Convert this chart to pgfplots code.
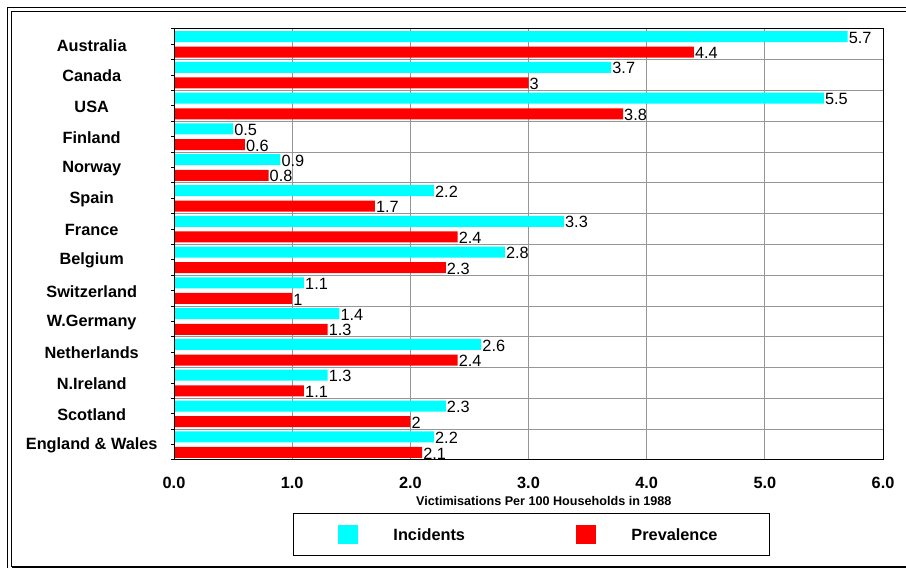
\documentclass[border=0pt]{standalone}
\usepackage{pgfplots}
\pgfplotsset{compat=1.18}
\usepackage{fontspec}
\setmainfont{Liberation Sans}
\definecolor{barcyan}{RGB}{0,255,255}
\definecolor{barred}{RGB}{255,0,0}
\definecolor{gridgray}{RGB}{150,150,150}
\begin{document}
\begin{tikzpicture}[x=1bp,y=1bp]
\useasboundingbox (0,0) rectangle (906,568);
\draw[line width=1.5bp] (7.3,-5) -- (7.3,560.7) -- (915,560.7);
\draw[line width=1.5bp] (11.5,1) -- (11.5,556.5) -- (915,556.5);
\draw[line width=1.5bp] (11.5,1) -- (915,1);
\begin{axis}[
  at={(174bp,108bp)}, anchor=south west,
  scale only axis, width=709bp, height=431bp,
  xmin=0, xmax=6, ymin=-0.5, ymax=13.5,
  xbar, bar width=11bp,
  /pgf/number format/assume math mode=true,
  xtick={0,1,...,6},
  xticklabel={\pgfmathprintnumber[fixed,fixed zerofill,precision=1]{\tick}},
  xticklabel style={font=\bfseries\fontsize{16.3bp}{18bp}\selectfont, anchor=center, yshift=-20bp},
  ytick={0,...,13},
  yticklabels={England \& Wales, Scotland, N.Ireland, Netherlands, W.Germany, Switzerland, Belgium, France, Spain, Norway, Finland, USA, Canada, Australia},
  yticklabel style={font=\bfseries\fontsize{16.3bp}{18bp}\selectfont, anchor=center, xshift=-79.3bp, yshift=-0.8bp},
  minor ytick={-0.5,0.5,...,13.5},
  tick align=outside, ytick pos=left,
  major tick length=3bp, minor tick length=3bp,
  xtick style={draw=none},
  ytick style={black, line width=1bp},
  every minor tick/.append style={black, line width=1bp},
  xmajorgrids=true, yminorgrids=true,
  major grid style={gridgray, line width=1bp},
  minor grid style={gridgray, line width=1bp},
  axis line style={black, line width=1bp},
  xlabel={Victimisations Per 100 Households in 1988},
  xlabel style={font=\bfseries\fontsize{12.6bp}{14bp}\selectfont, at={(axis description cs:0.5,0)}, anchor=center, yshift=-40.5bp, xshift=15.3bp},
  nodes near coords, point meta=x,
  nodes near coords align={horizontal},
  every node near coord/.append style={font=\fontsize{16.3bp}{18bp}\selectfont, black, anchor=west, inner sep=1bp, yshift=-1bp},
  legend columns=2,
  legend cell align=left,
  legend style={at={(0.1678,-0.1237)}, anchor=north west, draw=black, line width=1bp, inner sep=0pt, column sep=0pt,
    nodes={inner sep=0pt, text depth=0pt, text width=138bp, align=left, font=\bfseries\fontsize{16.3bp}{18bp}\selectfont, anchor=west}},
  legend image code/.code={\path[fill=none,draw=none] (0,-21bp) rectangle (100bp,21bp); \fill[#1,draw=none] (45bp,-9.5bp) rectangle (65bp,9.5bp);},
]
\addplot[fill=barcyan, draw=none, bar shift=7.8bp] coordinates {(5.7,13) (3.7,12) (5.5,11) (0.5,10) (0.9,9) (2.2,8) (3.3,7) (2.8,6) (1.1,5) (1.4,4) (2.6,3) (1.3,2) (2.3,1) (2.2,0)};
\addlegendentry{Incidents}
\addplot[fill=barred, draw=none, bar shift=-7.8bp] coordinates {(4.4,13) (3,12) (3.8,11) (0.6,10) (0.8,9) (1.7,8) (2.4,7) (2.3,6) (1,5) (1.3,4) (2.4,3) (1.1,2) (2,1) (2.1,0)};
\addlegendentry{Prevalence}
\draw[black, line width=2.3bp] (rel axis cs:0,1) -- (rel axis cs:0,0) -- (rel axis cs:1,0);
\end{axis}
\end{tikzpicture}
\end{document}
